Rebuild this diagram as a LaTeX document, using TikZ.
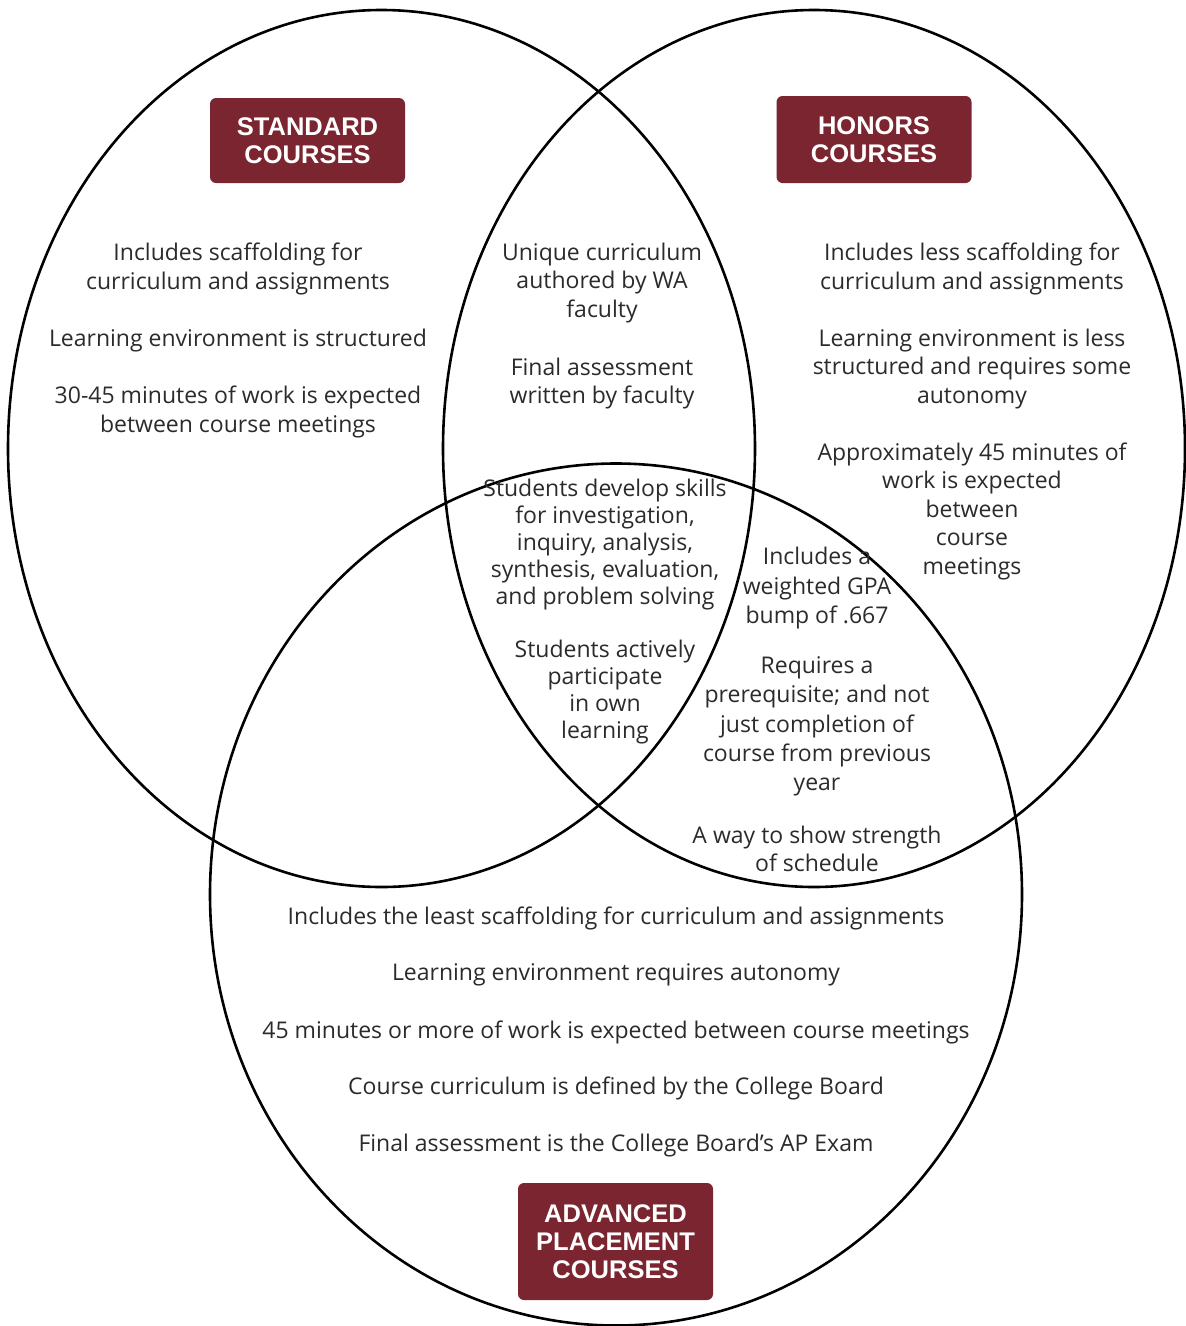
\documentclass[tikz,border=0pt]{standalone}
\usepackage{fontspec}
\setmainfont{Open Sans}
\newfontfamily\headfont{Liberation Sans}
\definecolor{maroon}{HTML}{7B2530}
\definecolor{ink}{HTML}{2B2B2B}
\begin{document}
\begin{tikzpicture}[x=1pt, y=-1pt,
	set/.style={draw=black, line width=2.6pt},
	head/.style={rectangle, rounded corners=6pt, fill=maroon, text=white, align=center,
		minimum width=195pt, font=\headfont\bfseries\fontsize{25.5}{28}\selectfont},
	body/.style={align=center, text=ink, inner sep=0pt, font=\fontsize{23}{28.5}\selectfont}]
	\useasboundingbox (0,0) rectangle (1186,1326);
	\fill[white] (0,0) rectangle (1186,1326);

	% the three sets
	\draw[set] (381.5,448.5) ellipse [x radius=373.5pt, y radius=438.5pt];
	\draw[set] (814,448.5) ellipse [x radius=371pt, y radius=438.5pt];
	\draw[set] (616,894.5) ellipse [x radius=406pt, y radius=431pt];

	% headers
	\node[head, minimum height=85pt] (S) at (307.5,140.5) {STANDARD\\COURSES};
	\node[head, minimum height=87pt] (H) at (874,139.5) {HONORS\\COURSES};
	\node[head, minimum height=117pt] (A) at (615.5,1241.5) {ADVANCED\\PLACEMENT\\COURSES};

	% standard only
	\node[body] (S1) at (238,269) {Includes scaffolding for\\curriculum and assignments};
	\node[body] (S2) at (238,341) {Learning environment is structured};
	\node[body] (S3) at (238,412) {30-45 minutes of work is expected\\between course meetings};

	% standard and honors
	\node[body] (SH1) at (602,283) {Unique curriculum\\authored by WA\\faculty};
	\node[body] (SH2) at (602,383.5) {Final assessment\\written by faculty};

	% honors only
	\node[body] (H1) at (972,269) {Includes less scaffolding for\\curriculum and assignments};
	\node[body] (H2) at (972,369) {Learning environment is less\\structured and requires some\\autonomy};
	\node[body] (H3) at (972,511) {Approximately 45 minutes of\\work is expected\\between\\course\\meetings};

	% all three
	\node[body, font=\fontsize{23}{27}\selectfont] (C1) at (605,545) {Students develop skills\\for investigation,\\inquiry, analysis,\\synthesis, evaluation,\\and problem solving};
	\node[body, font=\fontsize{23}{27}\selectfont] (C2) at (605,692.5) {Students actively\\participate\\in own\\learning};

	% honors and AP
	\node[body, font=\fontsize{23}{29.5}\selectfont] (HA1) at (817,588.5) {Includes a\\weighted GPA\\bump of .667};
	\node[body, font=\fontsize{23}{29.3}\selectfont] (HA2) at (817,726.5) {Requires a\\prerequisite; and not\\just completion of\\course from previous\\year};
	\node[body] (HA3) at (817,849) {A way to show strength\\of schedule};

	% AP only
	\node[body] (A1) at (616,918) {Includes the least scaffolding for curriculum and assignments};
	\node[body] (A2) at (616,975) {Learning environment requires autonomy};
	\node[body] (A3) at (616,1032) {45 minutes or more of work is expected between course meetings};
	\node[body] (A4) at (616,1088) {Course curriculum is defined by the College Board};
	\node[body] (A5) at (616,1146) {Final assessment is the College Board’s AP Exam};
\end{tikzpicture}
\end{document}
